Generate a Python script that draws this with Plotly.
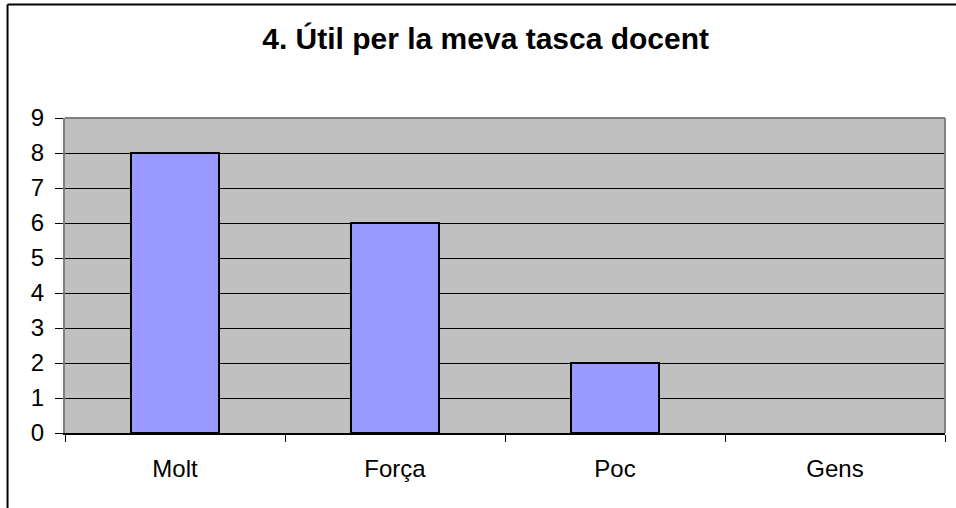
import plotly.graph_objects as go

categories = ['Molt', 'Força', 'Poc', 'Gens']
values = [8, 6, 2, 0]
y_ticks = list(range(0, 10))

fig = go.Figure(go.Bar(
    x=categories,
    y=values,
    marker=dict(color='#9999FF',
                line=dict(color='black', width=[2 if v else 0 for v in values])),
))

fig.update_layout(
    width=956, height=508,
    margin=dict(l=65, r=11, t=118, b=75),
    paper_bgcolor='white',
    plot_bgcolor='#C0C0C0',
    font=dict(family='Liberation Sans, Arial', size=24, color='black'),
    title=dict(text='<b>4. Útil per la meva tasca docent</b>',
               x=0.508, xanchor='center', y=0.925, yanchor='middle',
               font=dict(size=30)),
    bargap=0.6,
    showlegend=False,
    xaxis=dict(
        tickson='boundaries', ticks='outside', ticklen=7, tickcolor='black',
        showline=True, linecolor='black', linewidth=1.5,
        showgrid=False, ticklabelstandoff=13, tickfont=dict(size=24),
    ),
    yaxis=dict(
        range=[0, 9], tickvals=y_ticks, ticks='outside', ticklen=8,
        tickcolor='black', showgrid=True, gridcolor='black', gridwidth=1,
        showline=True, linecolor='#808080', linewidth=2,
        zeroline=False, ticklabelstandoff=6, tickfont=dict(size=24),
    ),
    shapes=[
        # gray plot-area border (top and right)
        dict(type='line', xref='paper', yref='paper', x0=0, x1=1, y0=1, y1=1,
             line=dict(color='#808080', width=2)),
        dict(type='line', xref='paper', yref='paper', x0=1, x1=1, y0=0, y1=1,
             line=dict(color='#808080', width=2)),
        # outer chart frame
        dict(type='line', xref='paper', yref='paper', x0=-0.0653, x1=1.2,
             y0=1.3603, y1=1.3603, line=dict(color='black', width=2)),
        dict(type='line', xref='paper', yref='paper', x0=-0.0653, x1=-0.0653,
             y0=-0.5, y1=1.3603, line=dict(color='black', width=2)),
    ],
)

fig.write_html('out.html', config={'displayModeBar': False},
               post_script="document.body.style.margin='0';")
